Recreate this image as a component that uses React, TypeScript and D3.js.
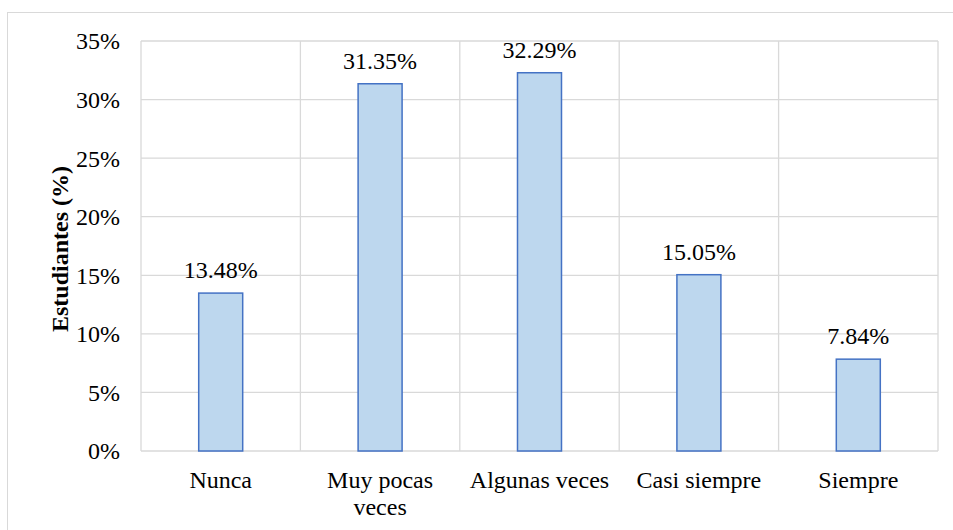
import React from "react";
import * as d3 from "d3";

const categories = ["Nunca", "Muy pocas veces", "Algunas veces", "Casi siempre", "Siempre"];
const categoryLines = [["Nunca"], ["Muy pocas", "veces"], ["Algunas veces"], ["Casi siempre"], ["Siempre"]];
const values = [13.48, 31.35, 32.29, 15.05, 7.84];
const yTicks = [0, 5, 10, 15, 20, 25, 30, 35];
const yTitle = "Estudiantes (%)";

const W = 953, H = 530;
const plot = { left: 141, right: 938, top: 41, bottom: 451 };
const font = "Times New Roman, Liberation Serif, Tinos, DejaVu Serif, serif";

export default function App() {
  const x = d3.scaleBand<string>().domain(categories).range([plot.left, plot.right]).paddingInner(0).paddingOuter(0);
  const y = d3.scaleLinear().domain([0, 35]).range([plot.bottom, plot.top]);
  const bw = x.bandwidth() * 0.276;
  const gridColor = "#d9d9d9";
  const ts: React.CSSProperties = { fontFamily: font };
  return (
    <svg width={W} height={H} style={{ position: "absolute", left: 0, top: 0, background: "#fff" }}>
      <rect x={7.5} y={12.5} width={W + 20} height={H + 20} fill="none" stroke={gridColor} strokeWidth={1} />
      {yTicks.map((t) => (
        <g key={t}>
          <line x1={plot.left} x2={plot.right} y1={y(t)} y2={y(t)} stroke={gridColor} strokeWidth={1.3} />
          <text x={120} y={y(t)} dy="0.35em" textAnchor="end" style={ts} fontSize={24} fill="#000">{t}%</text>
        </g>
      ))}
      {[...categories.map((c) => x(c) as number), plot.right].map((xv, i) => (
        <line key={i} x1={xv} x2={xv} y1={plot.top} y2={plot.bottom} stroke={gridColor} strokeWidth={1.3} />
      ))}
      {categories.map((c, i) => {
        const cx = (x(c) as number) + x.bandwidth() / 2;
        return (
          <g key={c}>
            <rect x={cx - bw / 2} y={y(values[i])} width={bw} height={y(0) - y(values[i])} fill="#BDD7EE" stroke="#4472C4" strokeWidth={1.5} />
            <text x={cx} y={y(values[i]) - 15} textAnchor="middle" style={ts} fontSize={24} fill="#000">{values[i].toFixed(2)}%</text>
            {categoryLines[i].map((ln, j) => (
              <text key={j} x={cx} y={488 + j * 27} textAnchor="middle" style={ts} fontSize={24} fill="#000">{ln}</text>
            ))}
          </g>
        );
      })}
      <text transform={`translate(68, 249) rotate(-90)`} textAnchor="middle" style={ts} fontSize={24} fontWeight="bold" fill="#000">{yTitle}</text>
    </svg>
  );
}
